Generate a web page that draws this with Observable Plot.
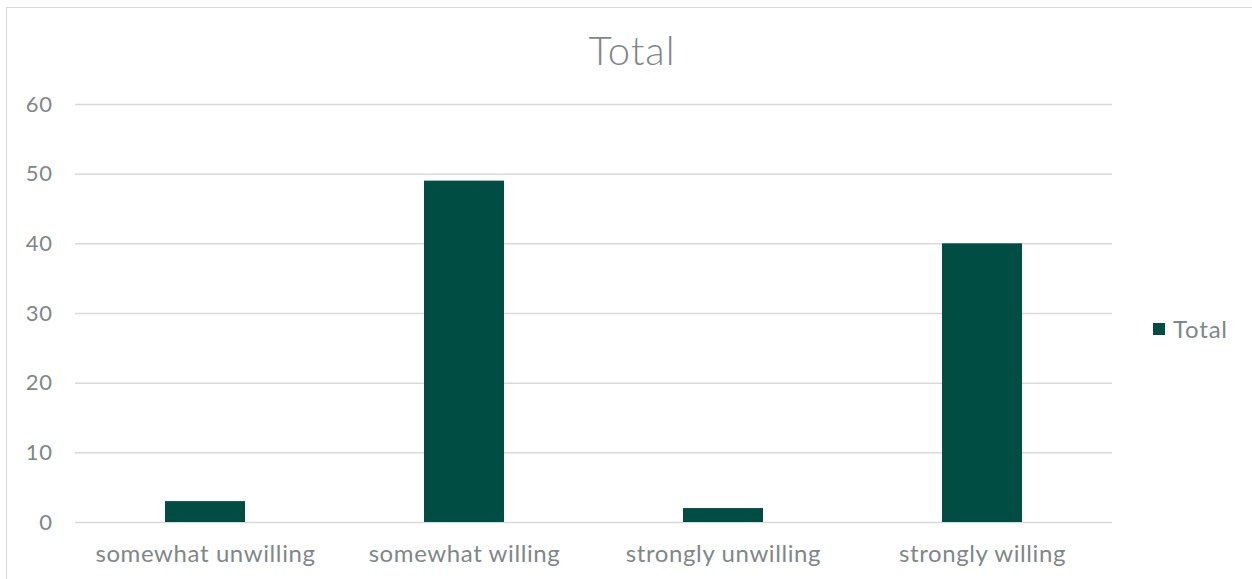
<!DOCTYPE html>
<html>
<head>
<meta charset="utf-8">
<script src="https://cdn.jsdelivr.net/npm/d3@7"></script>
<script src="https://cdn.jsdelivr.net/npm/@observablehq/plot@0.6"></script>
<style>
  body { margin: 0; background: #fff; }
  #wrap { position: relative; width: 1252px; height: 579px; overflow: hidden; font-family: Lato, "Open Sans", sans-serif; font-weight: 300; }
  #frame { position: absolute; left: 6px; top: 7px; width: 1250px; height: 600px; border: 1.5px solid #d9d9d9; box-sizing: border-box; }
  #title { position: absolute; left: 0; width: 1264px; top: 25px; text-align: center; font-size: 40px; letter-spacing: 1px; color: #7f8788; line-height: 50px; }
  #legend { position: absolute; left: 1153px; top: 314px; font-size: 24px; letter-spacing: 0.8px; color: #7f8788; font-weight: 400; display: flex; align-items: center; line-height: 30px; }
  #legend span.sw { display: inline-block; width: 12px; height: 12px; background: #004d44; margin-right: 8px; }
  #chart { position: absolute; left: 0; top: 0; }
</style>
</head>
<body>
<div id="wrap">
  <div id="frame"></div>
  <div id="chart"></div>
  <div id="title">Total</div>
  <div id="legend"><span class="sw"></span>Total</div>
</div>
<script>
const categories = ["somewhat unwilling", "somewhat willing", "strongly unwilling", "strongly willing"];
const totals = [3, 49, 2, 40];
const yTicks = [0, 10, 20, 30, 40, 50, 60];
const seriesName = "Total";

const data = categories.map((c, i) => ({category: c, value: totals[i]}));

const plot = Plot.plot({
  width: 1252,
  height: 579,
  marginLeft: 75,
  marginRight: 140,
  marginTop: 104,
  marginBottom: 57,
  style: {fontFamily: "Lato, 'Open Sans', sans-serif", fontWeight: 400, color: "#7f8788", background: "transparent", letterSpacing: "0.6px"},
  x: {domain: categories, paddingInner: 0.69, paddingOuter: 0.345, label: null, tickSize: 0},
  y: {domain: [0, 60], ticks: yTicks, label: null, tickSize: 0},
  marks: [
    Plot.gridY(yTicks, {stroke: "#d9d9d9", strokeOpacity: 1, strokeWidth: 1.5}),
    Plot.barY(data, {x: "category", y: "value", fill: "#004d44"}),
    Plot.axisY({ticks: yTicks, tickSize: 0, tickPadding: 23, fontSize: 22, label: null}),
    Plot.axisX({tickSize: 0, tickPadding: 22, fontSize: 24, label: null})
  ]
});
document.getElementById("chart").appendChild(plot);
</script>
</body>
</html>
